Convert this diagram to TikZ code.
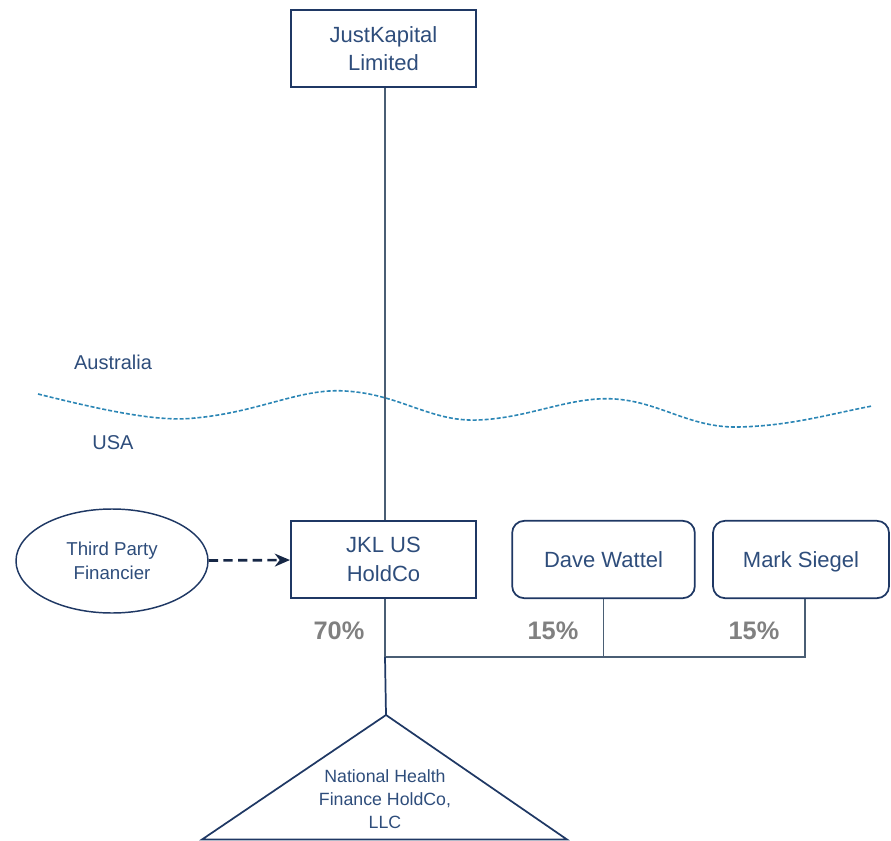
\documentclass[tikz,border=0pt]{standalone}
\usepackage{fontspec}
\setmainfont{Liberation Sans}
\usetikzlibrary{arrows.meta,positioning,shapes.geometric}
\usepackage{xcolor}
\definecolor{boxline}{HTML}{1F3864}
\definecolor{boxtext}{HTML}{2E4D7B}
\definecolor{linkline}{HTML}{4A5E74}
\definecolor{border}{HTML}{2B86B5}
\definecolor{pct}{HTML}{808080}

\begin{document}
\begin{tikzpicture}[
    x=0.75pt, y=-0.75pt,
    entity/.style={draw=boxline, line width=1.3pt, minimum width=139pt, minimum height=58pt, align=center, text=boxtext, font=\fontsize{16.5}{21.5}\selectfont},
    person/.style={entity, rounded corners=9pt, minimum width=137pt, text depth=0pt},
    party/.style={draw=boxline, line width=1.1pt, ellipse, minimum width=144pt, minimum height=78pt, align=center, text=boxtext, font=\fontsize{14}{18}\selectfont},
    region/.style={text=boxtext, font=\fontsize{15}{18}\selectfont},
    share/.style={text=pct, font=\bfseries\fontsize{19}{21}\selectfont},
    link/.style={draw=linkline, line width=0.8pt},
    arrow/.style={-{Stealth[length=4mm,width=3.4mm]}, line width=2pt, dashed, dash pattern=on 7pt off 4pt, draw=boxline!70!black}
]
\useasboundingbox (0,0) rectangle (891,841);

% top level
\node[entity] (jk) at (383.5,48.5) {JustKapital\\Limited};

% country border
\node[region] (aus) at (113,362) {Australia};
\node[region] (usa) at (113,443) {USA};
\draw[border, line width=1.2pt, dashed, dash pattern=on 3pt off 1.5pt]
  (38,394) .. controls (110,412) and (160,422) .. (195,418)
  .. controls (260,412) and (300,388) .. (345,391)
  .. controls (400,394) and (430,422) .. (478,420)
  .. controls (530,418) and (570,396) .. (615,399)
  .. controls (660,402) and (690,428) .. (738,427)
  .. controls (790,426) and (830,414) .. (872,406);

% US entities
\node[entity] (jkl) at (383.5,559.5) {JKL US\\HoldCo};
\node[person] (dave) at (603.5,559.5) {Dave Wattel};
\node[person, minimum width=132pt] (mark) at (801,559.5) {Mark Siegel};
\node[party] (tpf) at (112,561) {Third Party\\Financier};

% joint venture
\coordinate (apex) at (386,715);
\coordinate (join) at (385,657);
\draw[boxline, line width=1.3pt] (apex) -- (202,839.5) -- (567,839.5) -- cycle;
\node[text=boxtext, align=center, font=\fontsize{13.3}{17.3}\selectfont] (nhf) at (385,799) {National Health\\Finance HoldCo,\\LLC};

\draw[link] (jk.south -| 385,0) -- (jkl.north -| 385,0);
\draw[arrow] (tpf) -- (jkl);
\draw[link] (jkl.south -| join) -- (join);
\draw[link] (dave.south) -- (dave.south |- join) -- (join);
\draw[link] (mark.south -| 805,0) -- (805,657) -- (dave.south |- join);
\draw[boxline, line width=1.3pt] (join) -- (apex);

\node[share] (s70) at (339,631) {70\%};
\node[share] (s15a) at (553,631) {15\%};
\node[share] (s15b) at (754,631) {15\%};
\end{tikzpicture}
\end{document}
